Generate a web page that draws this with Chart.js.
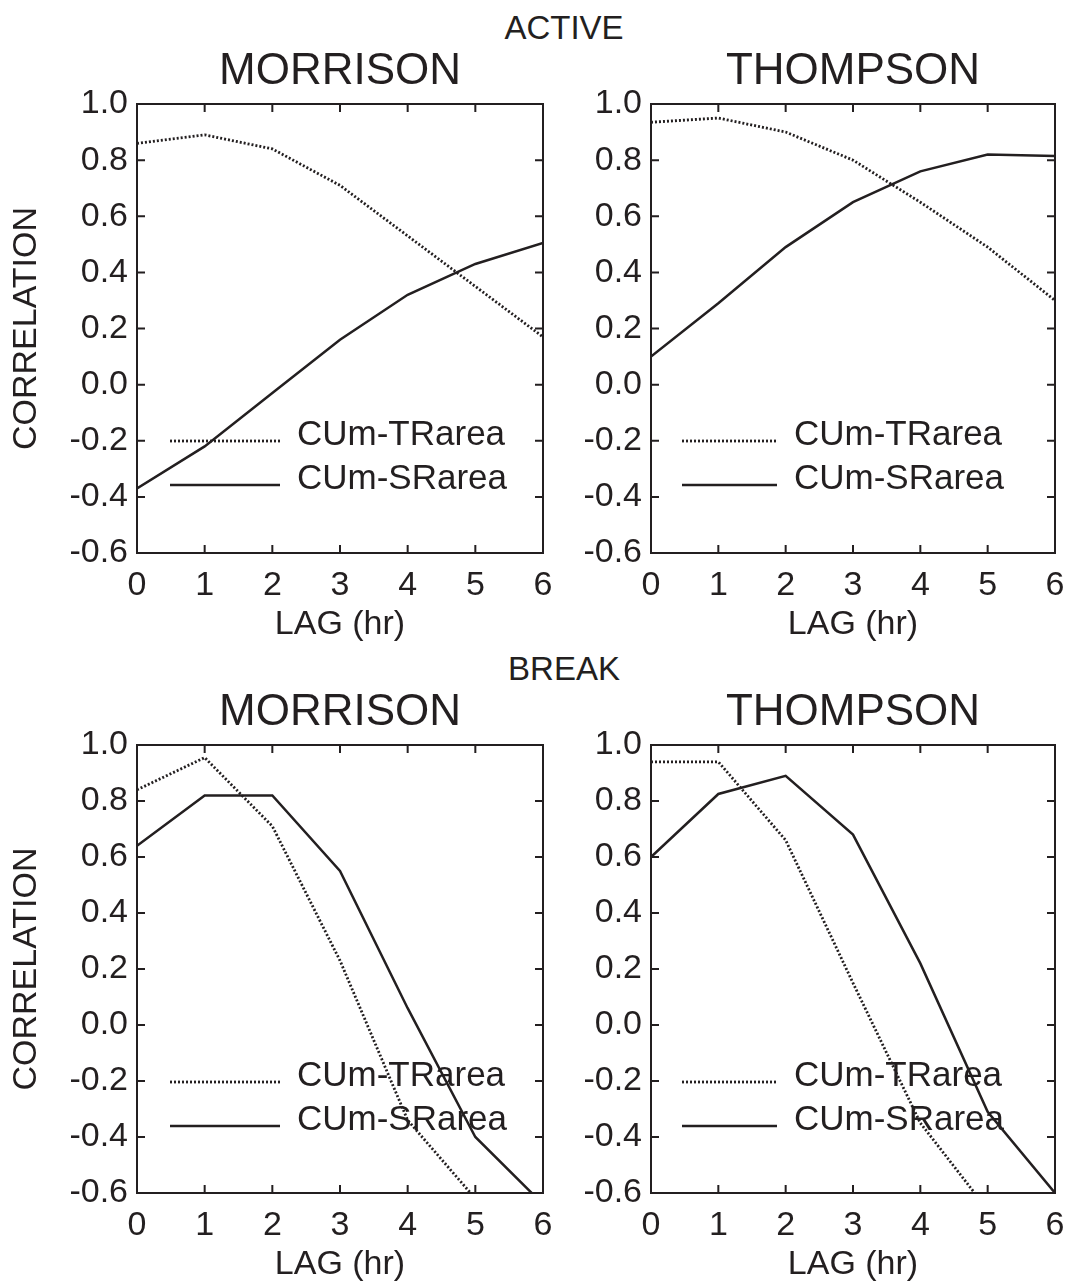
<!DOCTYPE html>
<html>
<head>
<meta charset="utf-8">
<script src="https://cdn.jsdelivr.net/npm/chart.js"></script>
<style>
  body { margin: 0; background: #fff; }
  #page { position: relative; width: 1068px; height: 1282px; overflow: hidden;
          font-family: 'Liberation Sans', Arial, sans-serif; color: #231f20; }
  .row-title { position: absolute; left: 414px; width: 300px; text-align: center;
               font-size: 33px; line-height: 33px; }
  canvas { position: absolute; }
</style>
</head>
<body>
<div id="page">
  <div class="row-title" style="top:11px">ACTIVE</div>
  <div class="row-title" style="top:652px">BREAK</div>
  <canvas id="activeMorrison" width="565" height="648" style="left:0;top:0"></canvas>
  <canvas id="activeThompson" width="543" height="648" style="left:534px;top:0"></canvas>
  <canvas id="breakMorrison" width="565" height="634" style="left:0;top:648px"></canvas>
  <canvas id="breakThompson" width="543" height="634" style="left:534px;top:648px"></canvas>
</div>
<script>
// lag in hours, shared by all panels
var LAGS = [0, 1, 2, 3, 4, 5, 6];

// ACTIVE period
var ACTIVE_MORRISON_TR = [0.86, 0.89, 0.84, 0.71, 0.53, 0.35, 0.17];
var ACTIVE_MORRISON_SR = [-0.37, -0.22, -0.03, 0.16, 0.32, 0.43, 0.505];
var ACTIVE_THOMPSON_TR = [0.935, 0.95, 0.90, 0.80, 0.65, 0.49, 0.30];
var ACTIVE_THOMPSON_SR = [0.10, 0.29, 0.49, 0.65, 0.76, 0.82, 0.815];

// BREAK period
var BREAK_MORRISON_TR = [0.84, 0.955, 0.71, 0.23, -0.34, -0.62, -0.85];
var BREAK_MORRISON_SR = [0.64, 0.82, 0.82, 0.55, 0.06, -0.40, -0.64];
var BREAK_THOMPSON_TR = [0.94, 0.94, 0.66, 0.15, -0.35, -0.66, -0.90];
var BREAK_THOMPSON_SR = [0.60, 0.825, 0.89, 0.68, 0.22, -0.31, -0.60];

var SERIES_NAMES = ['CUm-TRarea', 'CUm-SRarea'];
var Y_MIN = -0.6, Y_MAX = 1.0, Y_STEP = 0.2;

var INK = '#231f20';
var FONT = "'Liberation Sans', Arial, sans-serif";

// box round the plot plus inward tick marks on all four sides
var frameTicks = {
    id: 'frameTicks',
    afterDatasetsDraw: function (chart) {
        var ctx = chart.ctx, a = chart.chartArea;
        var xs = chart.scales.x, ys = chart.scales.y;
        ctx.save();
        ctx.strokeStyle = INK;
        ctx.lineWidth = 2;
        ctx.strokeRect(a.left, a.top, a.right - a.left, a.bottom - a.top);
        ctx.beginPath();
        xs.ticks.forEach(function (t) {
            var px = xs.getPixelForValue(t.value);
            ctx.moveTo(px, a.bottom); ctx.lineTo(px, a.bottom - 8);
            ctx.moveTo(px, a.top); ctx.lineTo(px, a.top + 8);
        });
        ys.ticks.forEach(function (t) {
            var py = ys.getPixelForValue(t.value);
            ctx.moveTo(a.left, py); ctx.lineTo(a.left + 8, py);
            ctx.moveTo(a.right, py); ctx.lineTo(a.right - 8, py);
        });
        ctx.stroke();
        ctx.restore();
    }
};

// legend drawn inside the plot, lower left
var insideLegend = {
    id: 'insideLegend',
    beforeDatasetsDraw: function (chart, args, opts) {
        var ctx = chart.ctx, a = chart.chartArea;
        chart.data.datasets.forEach(function (ds, i) {
            var y = a.top + opts.rows[i];
            ctx.save();
            ctx.strokeStyle = ds.borderColor;
            ctx.lineWidth = ds.borderWidth;
            ctx.setLineDash(ds.borderDash || []);
            ctx.beginPath();
            ctx.moveTo(a.left + opts.lineFrom, y);
            ctx.lineTo(a.left + opts.lineTo, y);
            ctx.stroke();
            ctx.setLineDash([]);
            ctx.fillStyle = INK;
            ctx.font = '35px ' + FONT;
            ctx.textBaseline = 'middle';
            ctx.fillText(ds.label, a.left + opts.textX, y - 6);
            ctx.restore();
        });
    }
};

function points(values) {
    return LAGS.map(function (l, i) { return { x: l, y: values[i] }; });
}

function makePanel(id, title, trValues, srValues, p) {
    var ctx = document.getElementById(id).getContext('2d');
    return new Chart(ctx, {
        type: 'line',
        data: {
            datasets: [{
                label: SERIES_NAMES[0],
                data: points(trValues),
                borderColor: INK,
                borderWidth: 2.8,
                borderDash: [2, 2],
                pointRadius: 0,
                fill: false
            }, {
                label: SERIES_NAMES[1],
                data: points(srValues),
                borderColor: INK,
                borderWidth: 2.5,
                pointRadius: 0,
                fill: false
            }]
        },
        options: {
            responsive: false,
            devicePixelRatio: 1,
            animation: { duration: 0 },
            layout: { padding: { top: p.padTop, right: p.padRight, left: 0, bottom: 0 } },
            plugins: {
                legend: { display: false },
                tooltip: { enabled: false },
                title: {
                    display: true,
                    text: title,
                    fullSize: false,
                    color: INK,
                    font: { family: FONT, size: 44, weight: 'normal', lineHeight: 1.2 },
                    padding: { top: 0, bottom: 5.6 }
                },
                insideLegend: p.legend
            },
            scales: {
                x: {
                    type: 'linear',
                    min: 0,
                    max: 6,
                    grid: { display: false, drawTicks: false },
                    border: { display: false },
                    ticks: {
                        stepSize: 1,
                        padding: 12,
                        color: INK,
                        maxRotation: 0,
                        font: { family: FONT, size: 34 }
                    },
                    title: {
                        display: true,
                        text: 'LAG (hr)',
                        color: INK,
                        font: { family: FONT, size: 34, lineHeight: 1 },
                        padding: { top: 0, bottom: p.xTitlePad }
                    },
                    afterFit: function (s) { s.height = p.xAxisHeight; }
                },
                y: {
                    min: Y_MIN,
                    max: Y_MAX,
                    grid: { display: false, drawTicks: false },
                    border: { display: false },
                    ticks: {
                        stepSize: Y_STEP,
                        padding: 9,
                        color: INK,
                        font: { family: FONT, size: 34 },
                        callback: function (v) {
                            return Math.abs(v) < 1e-9 ? '0.0' : v.toFixed(1);
                        }
                    },
                    title: {
                        display: p.yTitle,
                        text: 'CORRELATION',
                        color: INK,
                        font: { family: FONT, size: 34, lineHeight: 1 },
                        padding: { top: 10, bottom: 0 }
                    },
                    afterFit: function (s) { s.width = p.yAxisWidth; }
                }
            }
        },
        plugins: [frameTicks, insideLegend]
    });
}

var LEFT_LEGEND = { lineFrom: 33, lineTo: 143, textX: 160, rows: [337, 381] };
var RIGHT_LEGEND = { lineFrom: 31, lineTo: 126, textX: 143, rows: [337, 381] };

document.addEventListener('DOMContentLoaded', function () {
    makePanel('activeMorrison', 'MORRISON', ACTIVE_MORRISON_TR, ACTIVE_MORRISON_SR, {
        padTop: 45.6, padRight: 22, yAxisWidth: 137, xAxisHeight: 95, xTitlePad: 6,
        yTitle: true, legend: LEFT_LEGEND
    });
    makePanel('activeThompson', 'THOMPSON', ACTIVE_THOMPSON_TR, ACTIVE_THOMPSON_SR, {
        padTop: 45.6, padRight: 22, yAxisWidth: 117, xAxisHeight: 95, xTitlePad: 6,
        yTitle: false, legend: RIGHT_LEGEND
    });
    makePanel('breakMorrison', 'MORRISON', BREAK_MORRISON_TR, BREAK_MORRISON_SR, {
        padTop: 38.6, padRight: 22, yAxisWidth: 137, xAxisHeight: 89, xTitlePad: 0,
        yTitle: true, legend: LEFT_LEGEND
    });
    makePanel('breakThompson', 'THOMPSON', BREAK_THOMPSON_TR, BREAK_THOMPSON_SR, {
        padTop: 38.6, padRight: 22, yAxisWidth: 117, xAxisHeight: 89, xTitlePad: 0,
        yTitle: false, legend: RIGHT_LEGEND
    });
});
</script>
</body>
</html>
